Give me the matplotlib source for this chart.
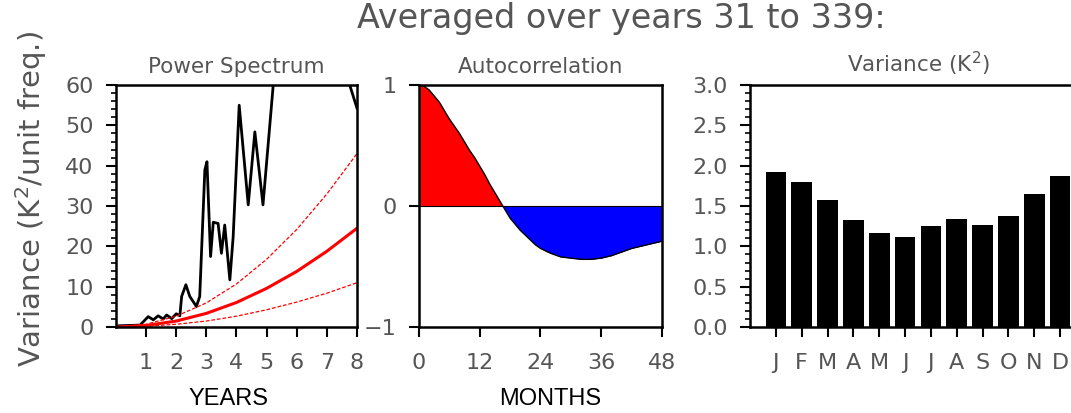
import matplotlib.pyplot as plt
import numpy as np
from matplotlib.ticker import MultipleLocator

# power spectrum (black)
ps_x = [0.0, 0.8, 1.07, 1.24, 1.4, 1.57, 1.68, 1.85, 2.0, 2.12, 2.18, 2.32, 2.45, 2.67,
        2.78, 2.95, 3.02, 3.14, 3.23, 3.39, 3.5, 3.61, 3.78, 3.89, 4.09, 4.39, 4.61,
        4.88, 5.22, 5.45, 7.5, 7.76, 8.0]
ps_y = [0.3, 0.5, 2.6, 1.8, 2.8, 2.0, 3.0, 2.1, 3.3, 2.8, 7.6, 10.5, 7.6, 5.1,
        7.6, 39.0, 41.0, 17.5, 26.0, 25.7, 18.3, 25.3, 11.7, 22.4, 55.0, 30.3, 48.4,
        30.3, 60.0, 75.0, 75.0, 60.0, 54.3]

# red null spectrum with bounds
red_x = [0, 1, 2, 3, 4, 5, 6, 7, 8]
red_mid = [0, 0.4, 1.5, 3.4, 6.1, 9.6, 13.8, 18.8, 24.5]
red_hi = [0, 0.7, 2.7, 6.0, 10.7, 16.8, 24.2, 33.0, 43.0]
red_lo = [0, 0.2, 0.7, 1.5, 2.7, 4.3, 6.2, 8.4, 11.0]

# autocorrelation
lag = [0, 1, 2, 3, 4, 5, 6, 7, 8, 9, 10, 11, 12, 13, 14, 15, 16, 17, 18, 19, 20, 21,
       22, 23, 24, 26, 28, 30, 32, 34, 36, 38, 40, 42, 44, 46, 48]
acf = [1.0, 0.99, 0.96, 0.91, 0.86, 0.79, 0.72, 0.66, 0.60, 0.53, 0.46, 0.40, 0.33,
       0.26, 0.18, 0.11, 0.04, -0.03, -0.10, -0.15, -0.20, -0.24, -0.28, -0.32, -0.35,
       -0.39, -0.42, -0.43, -0.44, -0.44, -0.43, -0.41, -0.38, -0.35, -0.33, -0.31, -0.29]

# monthly variance
months = ['J', 'F', 'M', 'A', 'M', 'J', 'J', 'A', 'S', 'O', 'N', 'D']
variance = [1.92, 1.80, 1.57, 1.33, 1.17, 1.12, 1.25, 1.34, 1.26, 1.38, 1.65, 1.87]

gray = '#555555'
plt.rcParams['font.family'] = 'DejaVu Sans'

fig = plt.figure(figsize=(10.71, 4.13), dpi=100)
bot, h = 0.208, 0.586
ax1 = fig.add_axes([0.1083, bot, 0.225, h])
ax2 = fig.add_axes([0.3912, bot, 0.2269, h])
ax3 = fig.add_axes([0.7003, bot, 0.3137, h])

for ax in (ax1, ax2, ax3):
    for s in ax.spines.values():
        s.set_linewidth(1.8)
    ax.tick_params(which='major', direction='out', length=7, width=1.5, colors='black',
                   labelcolor=gray, labelsize=16)
    ax.tick_params(which='minor', direction='out', length=3.5, width=1.2, colors='black')
    ax.tick_params(axis='x', pad=12)
    ax.tick_params(axis='y', pad=9)

# power spectrum
ax1.plot(ps_x, ps_y, color='black', lw=2)
ax1.plot(red_x, red_mid, color='red', lw=2.2)
ax1.plot(red_x, red_hi, color='red', lw=0.9, ls='--', dashes=(3, 1.5))
ax1.plot(red_x, red_lo, color='red', lw=0.9, ls='--', dashes=(3, 1.5))
ax1.set_xlim(0, 8)
ax1.set_ylim(0, 60)
ax1.set_xticks(range(1, 9))
ax1.set_yticks(range(0, 61, 10))
ax1.yaxis.set_minor_locator(MultipleLocator(2))
ax1.set_title('Power Spectrum', color=gray, fontsize=15.5, pad=9)
ax1.set_ylabel('Variance (K$^2$/unit freq.)', color=gray, fontsize=21)
ax1.yaxis.set_label_coords(-0.28, 0.53)
ax1.text(0.465, -0.298, 'YEARS', transform=ax1.transAxes, ha='center', va='center',
         fontsize=17, family='Liberation Sans')

# autocorrelation
a_lag = np.array(lag)
a_acf = np.array(acf)
ax2.fill_between(a_lag, a_acf, 0, where=a_acf >= 0, color='red', interpolate=True, lw=0)
ax2.fill_between(a_lag, a_acf, 0, where=a_acf <= 0, color='blue', interpolate=True, lw=0)
ax2.plot(a_lag, a_acf, color='black', lw=1)
ax2.axhline(0, color='black', lw=0.8)
ax2.set_xlim(0, 48)
ax2.set_ylim(-1, 1)
ax2.set_xticks([0, 12, 24, 36, 48])
ax2.set_yticks([-1, 0, 1])
ax2.set_yticklabels(['\u22121', '0', '1'])
ax2.set_title('Autocorrelation', color=gray, fontsize=15.5, pad=9)
ax2.text(0.54, -0.298, 'MONTHS', transform=ax2.transAxes, ha='center', va='center',
         fontsize=17, family='Liberation Sans')

# variance by month
pos = np.arange(1, 13)
ax3.bar(pos, variance, width=0.8, color='black')
ax3.set_xlim(0, 13)
ax3.set_ylim(0, 3.0)
ax3.set_xticks(pos)
ax3.set_xticklabels(months)
ax3.set_yticks(np.arange(0, 3.01, 0.5))
ax3.set_yticklabels([f'{v:.1f}' for v in np.arange(0, 3.01, 0.5)])
ax3.yaxis.set_minor_locator(MultipleLocator(0.1))
ax3.set_title('Variance (K$^2$)', color=gray, fontsize=15.5, pad=9)

fig.text(0.58, 0.955, 'Averaged over years 31 to 339:', ha='center', va='center',
         color=gray, fontsize=24)

fig.savefig('out.png', dpi=100)
